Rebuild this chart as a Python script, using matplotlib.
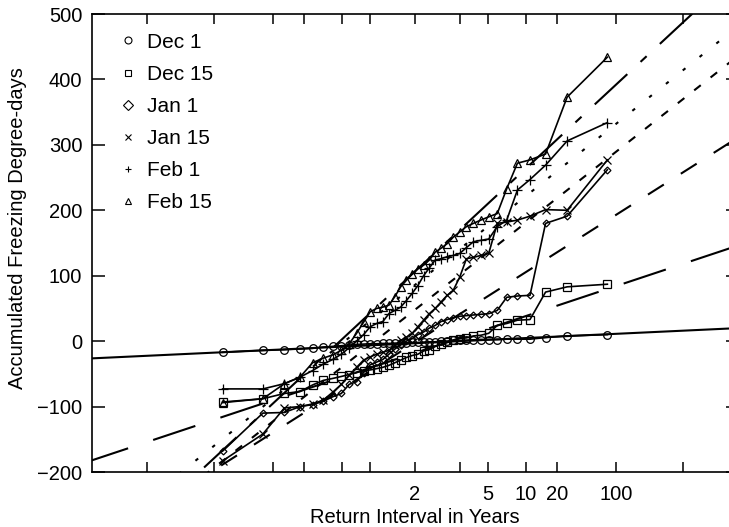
import numpy as np
import matplotlib
matplotlib.use('Agg')
import matplotlib.pyplot as plt
from matplotlib.lines import Line2D
from statistics import NormalDist

plt.rcParams['font.family'] = ['Liberation Sans', 'DejaVu Sans']
plt.rcParams['lines.scale_dashes'] = False

# accumulated freezing degree-days, sorted, 38 seasons each
dec1 = [-17, -14, -13, -12, -11, -9, -8, -7, -6, -5, -4.5, -4, -4, -3.5, -3.5, -3, -3, -2.5, -2,
        -2, -1.5, -1, -1, 0, 0, 1, 1, 1.5, 2, 2.5, 2.5, 2.5, 3, 3, 3, 5.5, 8, 10]
dec15 = [-93, -88, -80, -77, -67, -60, -57, -54, -51, -48, -45, -44, -42, -40, -37, -33, -29, -25,
         -22, -20, -15, -13, -8, -5, -2, 1, 4, 5, 8, 9, 12, 24, 27, 32, 33, 75, 83, 87]
jan1 = [-168, -110, -109, -100, -97, -92, -85, -80, -66, -62, -48, -36, -32, -28, -20, -12, -6, 0,
        4, 10, 14, 20, 24, 30, 33, 36, 38, 39, 40, 41, 42, 47, 67, 69, 70, 180, 191, 262]
jan15 = [-183, -142, -102, -100, -96, -90, -78, -66, -52, -40, -29, -24, -20, -17, -14, -6, 1, 6,
         12, 22, 32, 42, 50, 60, 70, 78, 98, 126, 128, 131, 134, 180, 182, 185, 191, 201, 200, 277]
feb1 = [-73, -73, -65, -55, -45, -35, -28, -20, -10, 0, 10, 22, 27, 30, 42, 47, 52, 62, 73, 85,
        100, 112, 124, 126, 129, 131, 134, 143, 152, 154, 156, 175, 185, 231, 247, 269, 306, 334]
feb15 = [-94, -88, -65, -55, -33, -26, -21, -14, -4, 12, 29, 45, 50, 52, 55, 68, 83, 93, 103, 111,
         116, 124, 136, 142, 149, 159, 167, 175, 180, 185, 190, 195, 233, 272, 277, 286, 373, 434]

labels = ['Dec 1', 'Dec 15', 'Jan 1', 'Jan 15', 'Feb 1', 'Feb 15']
markers = ['o', 's', 'D', 'x', '+', '^']
msizes = [5.5, 5.5, 3.5, 5.5, 7, 5.5]

# fitted lines: value = fit_a + fit_b * z
fit_a = [-3.2, -18, -2, 48, 86, 106.5]
fit_b = [6.2, 44, 84, 104, 106, 123]
fit_dash = [None, (32, 19), (13.5, 14.5), (6, 9), (2.5, 13), (32, 13, 6, 13)]

# x axis: return interval ticks on normal probability paper
tick_p = [0.001, 0.01, 0.05, 0.1, 0.2, 0.3, 0.5, 0.7, 0.8, 0.9, 0.95, 0.99, 0.999]
tick_lab = ['', '', '', '', '', '', '2', '', '5', '10', '20', '100', '']

nd = NormalDist()
def fwd(p):
    p = np.clip(np.asarray(p, dtype=float), 1e-12, 1 - 1e-12)
    return np.vectorize(nd.inv_cdf, otypes=[float])(p)
def inv(z):
    return np.vectorize(nd.cdf, otypes=[float])(np.asarray(z, dtype=float))

fig = plt.figure(figsize=(7.29, 5.27), dpi=100)
ax = fig.add_axes([92 / 729, 55 / 527, 646 / 729, 458 / 527])
ax.set_xscale('function', functions=(fwd, inv))

series = [dec1, dec15, jan1, jan15, feb1, feb15]
n = len(dec1)
pp = (np.arange(1, n + 1) - 0.5) / n
pline = inv(np.linspace(-3.8, 3.8, 200))
zline = fwd(pline)

for vals, m, ms, a, b, d in zip(series, markers, msizes, fit_a, fit_b, fit_dash):
    ax.plot(pp, vals, color='black', lw=1.2, marker=m, ms=ms, mfc='none', mec='black', mew=0.9)
    ln, = ax.plot(pline, a + b * zline, color='black', lw=1.5)
    if d is not None:
        ln.set_dashes(d)

ax.set_xlim(float(inv(-3.73)), float(inv(3.73)))
ax.set_ylim(-200, 500)
ax.set_xticks(tick_p)
ax.set_xticklabels(tick_lab)
ax.xaxis.set_minor_locator(matplotlib.ticker.NullLocator())
ax.set_yticks([-200, -100, 0, 100, 200, 300, 400, 500])
ax.tick_params(axis='x', direction='in', length=7, width=1.1, top=True, labelsize=14.5, pad=9)
ax.tick_params(axis='y', direction='in', length=9, width=1.1, right=True, labelsize=14.5, pad=7)
for s in ax.spines.values():
    s.set_linewidth(1.2)

ax.set_xlabel('Return Interval in Years', fontsize=14.5, labelpad=3)
ax.set_ylabel('Accumulated Freezing Degree-days', fontsize=14.5)
ax.yaxis.set_label_coords(-0.1, 0.533)

handles = [Line2D([], [], ls='none', marker=m, ms=5, mfc='none', mec='black', mew=0.8)
           for m in markers]
ax.legend(handles, labels, loc='upper left', bbox_to_anchor=(117.6 / 729, 1 - 32.75 / 527),
          bbox_transform=fig.transFigure, frameon=False, fontsize=15, handlelength=1.0,
          handletextpad=0.41, labelspacing=0.63, borderpad=0, borderaxespad=0)

fig.savefig('out.png', dpi=100)
